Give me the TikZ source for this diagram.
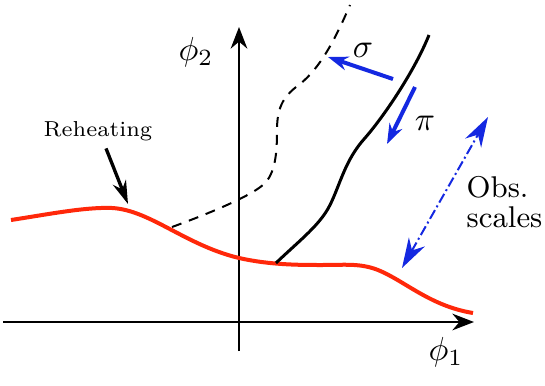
\documentclass[tikz,border=0pt]{standalone}
\usetikzlibrary{arrows.meta}
\definecolor{reheat}{RGB}{255,40,10}
\definecolor{field}{RGB}{20,40,225}
\definecolor{ink}{RGB}{0,0,0}
\tikzset{
  axis/.style={line width=0.6pt, draw=ink, -{Stealth[length=6.5pt, width=5pt]}},
  potential/.style={line width=1.2pt, draw=reheat},
  traj/.style={line width=0.9pt, draw=ink},
  oldtraj/.style={line width=0.6pt, draw=ink, dash pattern=on 3pt off 2.4pt},
  farr/.style={-{Stealth[length=6pt, width=4.2pt]}, line width=1.2pt, draw=field},
  obsarr/.style={{Stealth[length=9pt, width=5.5pt]}-{Stealth[length=9pt, width=5.5pt]},
              line width=0.6pt, draw=field, densely dash dot},
  karr/.style={-{Stealth[length=7pt, width=4.2pt]}, line width=1pt, draw=ink},
  lbl/.style={inner sep=0pt, align=left},
}
\begin{document}
\begin{tikzpicture}[x=0.3pt, y=-0.3pt]
  \useasboundingbox (0,0) rectangle (545,385);

  % axes
  \coordinate (xl) at (3,322);
  \coordinate (xr) at (474,322);
  \coordinate (yb) at (239,351);
  \coordinate (yt) at (239,27);
  \draw[axis] (xl) -- (xr);
  \draw[axis] (yb) -- (yt);
  \node[lbl] (phione) at (446,352) {$\phi_1$};
  \node[lbl] (phitwo) at (196,52) {$\phi_2$};

  % potential valley
  \draw[potential] (11,220) .. controls (50,214) and (85,207) .. (112,208)
    .. controls (150,210) and (185,245) .. (239,258)
    .. controls (270,265) and (300,265) .. (322,265)
    .. controls (345,265) and (360,263) .. (378,270)
    .. controls (405,281) and (430,306) .. (473,313);

  % trajectories
  \draw[traj] (276,263) .. controls (300,240) and (320,225) .. (330,205)
    .. controls (340,185) and (345,160) .. (365,138)
    .. controls (385,115) and (415,70) .. (429,35);
  \draw[oldtraj] (172,227) .. controls (205,215) and (255,195) .. (266,182)
    .. controls (276,170) and (277,150) .. (277,130)
    .. controls (277,105) and (285,95) .. (300,84)
    .. controls (320,68) and (335,40) .. (350,5);

  % field directions
  \coordinate (sigs) at (393,79);
  \coordinate (sige) at (328,57);
  \draw[farr] (sigs) -- (sige);
  \node[lbl] (sigma) at (363,50) {$\sigma$};
  \coordinate (pis) at (415,87);
  \coordinate (pie) at (387,144);
  \draw[farr] (pis) -- (pie);
  \node[lbl] (pi) at (425,123) {$\pi$};

  % observable scales
  \coordinate (obsb) at (402,268);
  \coordinate (obst) at (488,117);
  \draw[obsarr] (obsb) -- (obst);
  \node[lbl, anchor=west, font=\fontsize{9}{10}\selectfont] (obs) at (466,202)
    {Obs.\\[-1pt]scales};

  % reheating
  \node[lbl, font=\fontsize{6.5}{7}\selectfont] (reh) at (98,131) {Reheating};
  \coordinate (rehe) at (128,204);
  \draw[karr] (reh.south) ++(8,7) -- (rehe);
\end{tikzpicture}
\end{document}
